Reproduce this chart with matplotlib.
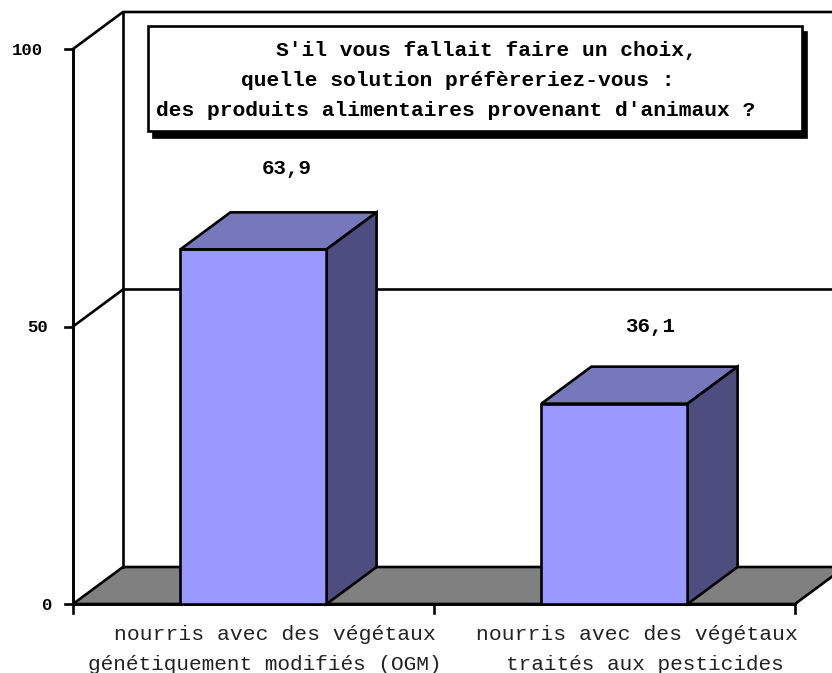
import matplotlib
matplotlib.use('Agg')
import matplotlib.pyplot as plt
from matplotlib.patches import Polygon, Rectangle

category_lines = [['nourris avec des végétaux', 'génétiquement modifiés (OGM)'],
                  ['nourris avec des végétaux', 'traités aux pesticides']]
values = [63.9, 36.1]
value_labels = ['63,9', '36,1']
y_ticks = [0, 50, 100]
title_lines = ["S'il vous fallait faire un choix,",
               'quelle solution préfèreriez-vous :',
               "des produits alimentaires provenant d'animaux ?"]

# pixel layout of the fake 3d chart
W, H = 832, 673
x0_px, y0_px = 73, 604
cat_px = 361
val_px = 5.55
dx = 50 / cat_px
dy = 37 / val_px
bar_w = 0.405


def px(x):
    return (x - x0_px) / cat_px


def py(y):
    return (y0_px - y) / val_px


plt.rcParams['font.family'] = ['Liberation Mono', 'DejaVu Sans']

fig = plt.figure(figsize=(W / 100, H / 100), dpi=100)
ax = fig.add_axes([0, 0, 1, 1])
ax.set_xlim(px(0), px(W))
ax.set_ylim(py(H), py(0))
ax.axis('off')

lw = 1.9
n = len(values)
top = y_ticks[-1]

# floor
ax.add_patch(Polygon([(0, 0), (dx, dy), (n + dx, dy), (n, 0)],
                     facecolor='#808080', edgecolor='black', lw=lw, zorder=1))

# walls and gridlines
for t in y_ticks[1:]:
    ax.plot([0, dx, n + dx], [t, t + dy, t + dy], color='black', lw=lw, zorder=1)
ax.plot([dx, dx], [dy, top + dy], color='black', lw=lw, zorder=1)
ax.plot([0, 0], [0, top], color='black', lw=lw * 1.1, zorder=2)
ax.plot([0, n], [0, 0], color='black', lw=lw * 1.1, zorder=2)

# ticks
tick_right = [52, 48, 43]
for t, r in zip(y_ticks, tick_right):
    ax.plot([px(x0_px - 8), 0], [t, t], color='black', lw=lw, zorder=2)
    ax.text(px(r), t - 0.2, str(t), ha='right', va='center',
            fontsize=12.5, fontweight='bold')
for i in range(n + 1):
    ax.plot([i, i], [0, -9 / val_px], color='black', lw=lw, zorder=2)

# bars
label_x = [287, 650]
label_y = [169, 326]
cat_x = [[275, 265], [637, 645]]
for i, v in enumerate(values):
    c = i + 0.5
    l, r = c - bar_w / 2, c + bar_w / 2
    ax.bar(c, v, width=bar_w, color='#9999ff', edgecolor='black', lw=lw, zorder=3)
    ax.add_patch(Polygon([(l, v), (l + dx, v + dy), (r + dx, v + dy), (r, v)],
                         facecolor='#7777bb', edgecolor='black', lw=lw, zorder=3))
    ax.add_patch(Polygon([(r, 0), (r + dx, dy), (r + dx, v + dy), (r, v)],
                         facecolor='#4d4d80', edgecolor='black', lw=lw, zorder=3))
    ax.text(px(label_x[i]), py(label_y[i]), value_labels[i], ha='center', va='center',
            fontsize=15, fontweight='bold')
    ax.text(px(cat_x[i][0]), py(634), category_lines[i][0], ha='center', va='center',
            fontsize=15.4, color='#222222')
    ax.text(px(cat_x[i][1]), py(664), category_lines[i][1], ha='center', va='center',
            fontsize=15.2, color='#222222')

# title box with shadow
bx, bw = px(148), 654 / cat_px
by, bh = py(130.5), 104.5 / val_px
ax.add_patch(Rectangle((bx + 4.5 / cat_px, by - 6.5 / val_px), bw, bh,
                       facecolor='black', edgecolor='black', lw=lw, zorder=4))
ax.add_patch(Rectangle((bx, by), bw, bh, facecolor='white', edgecolor='black', lw=lw, zorder=5))

title_x = [486, 458, 456]
title_y = [51, 80, 110]
for line, tx, ty in zip(title_lines, title_x, title_y):
    ax.text(px(tx), py(ty), line, ha='center', va='center',
            fontsize=15.35, fontweight='bold', zorder=6)

fig.savefig('out.png', dpi=100)
